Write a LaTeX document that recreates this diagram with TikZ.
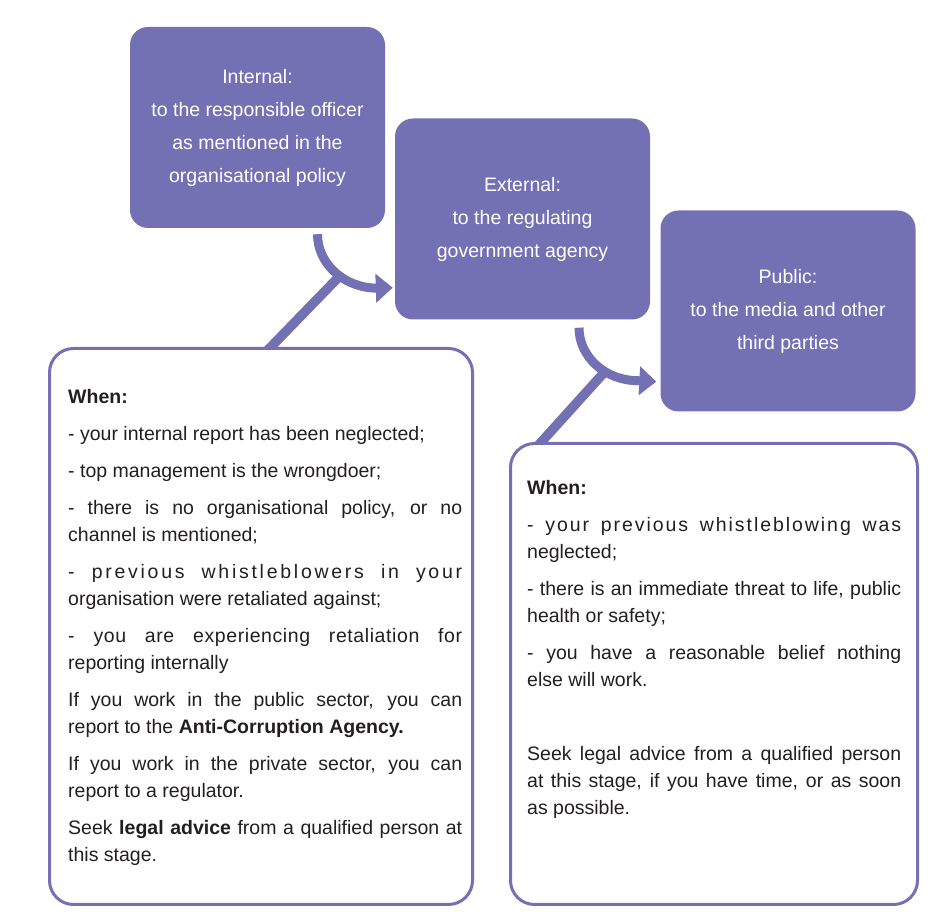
\documentclass[tikz,border=0pt]{standalone}
\usepackage{fontspec}
\setmainfont{Liberation Sans}
\usetikzlibrary{arrows.meta,calc}
\definecolor{wbpurple}{HTML}{7470B4}
\definecolor{wbtext}{HTML}{231F20}
\newcommand{\infosetup}{\setlength{\parindent}{0pt}\setlength{\parskip}{10pt}\hyphenpenalty=10000\exhyphenpenalty=10000\tolerance=10000\hbadness=10000}
\newcommand{\spaced}[2]{{\addfontfeature{LetterSpace=#1}#2}}
\begin{document}
\begin{tikzpicture}[x=1pt,y=1pt,
  stagebox/.style={fill=wbpurple, draw=none, rounded corners=18pt, minimum width=255pt, minimum height=201pt, inner sep=0pt, text=white, align=center, font=\fontsize{19.5}{33}\selectfont},
  infobox/.style={draw=wbpurple, line width=3pt, rounded corners=24pt, fill=white, inner sep=0pt},
  infotext/.style={anchor=north west, inner sep=0pt, text=wbtext, align=justify, font=\fontsize{19.5}{27}\selectfont},
  connector/.style={draw=wbpurple, line width=9pt},
  diag/.style={draw=wbpurple, line width=9.5pt},
  bigtip/.style={-{Triangle[length=17pt,width=28pt]}}
]
\useasboundingbox (0,0) rectangle (938,923);

% stage boxes
\node[stagebox] (internal) at (257.5,795.5) {Internal:\\to the responsible officer\\as mentioned in the\\organisational policy};
\node[stagebox] (external) at (522.5,704) {External:\\to the regulating\\government agency};
\node[stagebox] (public) at (788,612) {Public:\\to the media and other\\third parties};

% junction coordinates on the arcs
\coordinate (j1) at (339.7,647);
\coordinate (j2) at (604.2,550.6);

% curved arrows
\draw[connector,bigtip] ($(internal.south)+(60,-6)$) arc[start angle=180,end angle=270,x radius=60,y radius=54] -- ($(external.south west)+(-2,32)$);
\draw[connector,bigtip] ($(external.south)+(56.5,-8)$) arc[start angle=180,end angle=270,x radius=59,y radius=53] -- ($(public.south west)+(-4,30)$);

% diagonal links from the info boxes
\path (261,296.5) coordinate (leftc) (714,249) coordinate (rightc);
\draw[diag] (j1) -- ($(leftc)+(3.5,273)$);
\draw[diag] (j2) -- ($(rightc)+(-178.7,225.3)$);

\node[infobox, minimum width=423pt, minimum height=556pt] (leftinfo) at (leftc) {};
\node[infobox, minimum width=407pt, minimum height=461pt] (rightinfo) at (rightc) {};

\node[infotext, text width=394pt] (lefttext) at (68,534) {\infosetup
\textbf{When:}\par
- your internal report has been neglected;\par
- top management is the wrongdoer;\par
- there is no organisational policy, or no\linebreak channel is mentioned;\par
\spaced{14}{- previous whistleblowers in your}\linebreak organisation were retaliated against;\par
\spaced{3}{- you are experiencing retaliation for}\linebreak reporting internally\par
If you work in the public sector, you can\linebreak report to the \textbf{Anti-Corruption Agency.}\par
If you work in the private sector, you can\linebreak report to a regulator.\par
Seek \textbf{legal advice} from a qualified person at\linebreak this stage.};

\node[infotext, text width=374pt] (righttext) at (527,443) {\infosetup
\textbf{When:}\par
\spaced{10}{- your previous whistleblowing was}\linebreak neglected;\par
- there is an immediate threat to life, public\linebreak health or safety;\par
- you have a reasonable belief nothing\linebreak else will work.\par
\vspace{37pt}
Seek legal advice from a qualified person\linebreak at this stage, if you have time, or as soon\linebreak as possible.};
\end{tikzpicture}
\end{document}
